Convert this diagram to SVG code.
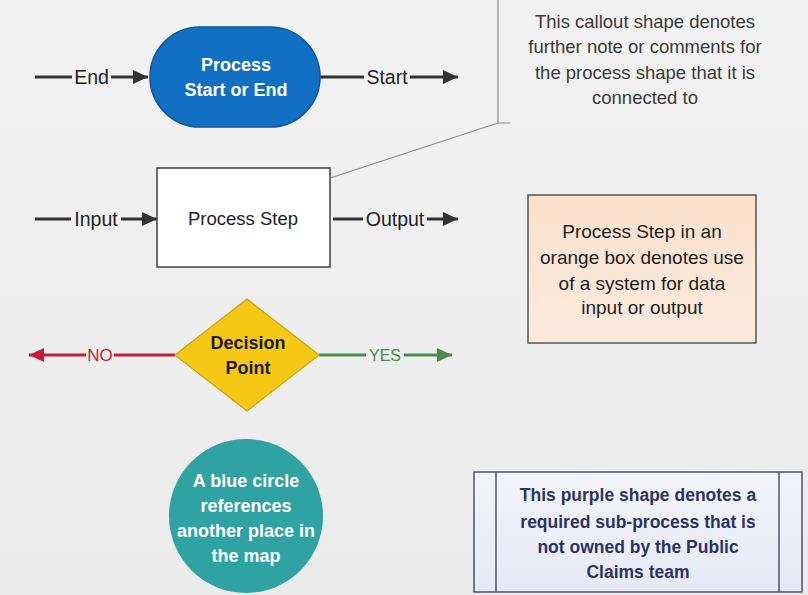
<svg xmlns="http://www.w3.org/2000/svg" width="808" height="595" viewBox="0 0 808 595">
  <defs>
    <style>
      .t { font-family: "Liberation Sans", Arial, sans-serif; text-anchor: middle; }
      .lbl { font-size: 19.5px; fill: #222; }
      .dk { stroke: #333; stroke-width: 3; fill: none; }
      .red { stroke: #C41E3A; stroke-width: 3; fill: none; }
      .grn { stroke: #4A8A4E; stroke-width: 3; fill: none; }
    </style>
    <linearGradient id="bg" x1="0" y1="0" x2="0" y2="1">
      <stop offset="0" stop-color="#F2F2F2"/>
      <stop offset="1" stop-color="#EBEBEB"/>
    </linearGradient>
    <linearGradient id="orange" x1="0" y1="0" x2="0" y2="1">
      <stop offset="0" stop-color="#FBE1CD"/>
      <stop offset="1" stop-color="#FCE9DC"/>
    </linearGradient>
    <linearGradient id="purple" x1="0" y1="0" x2="0" y2="1">
      <stop offset="0" stop-color="#F3F4FA"/>
      <stop offset="1" stop-color="#E6E8F6"/>
    </linearGradient>
    <marker id="ahDark" markerUnits="userSpaceOnUse" markerWidth="16" markerHeight="16" refX="15" refY="8" orient="auto">
      <path d="M0,1 L15,8 L0,15 Z" fill="#333"/>
    </marker>
    <marker id="ahRed" markerUnits="userSpaceOnUse" markerWidth="16" markerHeight="16" refX="15" refY="8" orient="auto">
      <path d="M0,1 L15,8 L0,15 Z" fill="#C41E3A"/>
    </marker>
    <marker id="ahGrn" markerUnits="userSpaceOnUse" markerWidth="16" markerHeight="16" refX="15" refY="8" orient="auto">
      <path d="M0,1 L15,8 L0,15 Z" fill="#4A8A4E"/>
    </marker>
  </defs>

  <rect x="0" y="0" width="808" height="595" fill="url(#bg)"/>

  <g id="connectors">
    <!-- End -->
    <path class="dk" d="M35,77 H72"/>
    <path class="dk" d="M111,77 H148" marker-end="url(#ahDark)"/>
    <text class="t lbl" x="91.5" y="84">End</text>
    <!-- Start -->
    <path class="dk" d="M320,77 H364"/>
    <path class="dk" d="M410,77 H458" marker-end="url(#ahDark)"/>
    <text class="t lbl" x="387" y="84">Start</text>
    <!-- Input -->
    <path class="dk" d="M35,219 H71"/>
    <path class="dk" d="M121,219 H157" marker-end="url(#ahDark)"/>
    <text class="t lbl" x="96" y="226">Input</text>
    <!-- Output -->
    <path class="dk" d="M333,219 H363"/>
    <path class="dk" d="M427,219 H458" marker-end="url(#ahDark)"/>
    <text class="t lbl" x="395" y="226">Output</text>
    <!-- NO -->
    <path class="red" d="M175,355 H114"/>
    <path class="red" d="M86,355 H29" marker-end="url(#ahRed)"/>
    <text class="t" x="100" y="361" font-size="17" fill="#C41E3A">NO</text>
    <!-- YES -->
    <path class="grn" d="M319,355 H366"/>
    <path class="grn" d="M404,355 H452" marker-end="url(#ahGrn)"/>
    <text class="t" x="385" y="361" font-size="16" fill="#4A8A4E">YES</text>
    <!-- callout leader -->
    <path d="M498,123 L330,178" stroke="#8A8A8A" stroke-width="1.2" fill="none"/>
  </g>

  <g id="terminator">
    <rect x="150" y="27" width="170" height="100" rx="50" ry="50" fill="#1170C4" stroke="#0D5799" stroke-width="1.5"/>
    <text class="t" x="236" y="71" font-size="18" font-weight="bold" fill="#FFFFFF">Process</text>
    <text class="t" x="236" y="96" font-size="18" font-weight="bold" fill="#FFFFFF">Start or End</text>
  </g>

  <g id="callout">
    <path d="M510,123 H498 V0" stroke="#8A8A8A" stroke-width="1.2" fill="none"/>
    <text class="t" x="645" y="28" font-size="18.5" fill="#3A3A3A">This callout shape denotes</text>
    <text class="t" x="645" y="53" font-size="18.5" fill="#3A3A3A">further note or comments for</text>
    <text class="t" x="645" y="79" font-size="18.5" fill="#3A3A3A">the process shape that it is</text>
    <text class="t" x="645" y="104" font-size="18.5" fill="#3A3A3A">connected to</text>
  </g>

  <g id="process-step">
    <rect x="157" y="168" width="173" height="99" fill="#FFFFFF" stroke="#404040" stroke-width="1.5"/>
    <text class="t" x="243" y="225" font-size="18.5" fill="#1E1E1E">Process Step</text>
  </g>

  <g id="system-step">
    <rect x="528" y="195" width="228" height="148" fill="url(#orange)" stroke="#555" stroke-width="1.5"/>
    <text class="t" x="642" y="238" font-size="19" fill="#1E1E1E">Process Step in an</text>
    <text class="t" x="642" y="264" font-size="19" fill="#1E1E1E">orange box denotes use</text>
    <text class="t" x="642" y="290" font-size="19" fill="#1E1E1E">of a system for data</text>
    <text class="t" x="642" y="314" font-size="19" fill="#1E1E1E">input or output</text>
  </g>

  <g id="decision">
    <polygon points="247,299 319,355 247,411 175,355" fill="#F6C816" stroke="#C9A20E" stroke-width="1.2"/>
    <text class="t" x="248" y="349" font-size="18" font-weight="bold" fill="#1A1A1A">Decision</text>
    <text class="t" x="248" y="374" font-size="18" font-weight="bold" fill="#1A1A1A">Point</text>
  </g>

  <g id="reference-circle">
    <circle cx="246" cy="516" r="77" fill="#2FA3A3"/>
    <text class="t" x="246" y="487" font-size="18" font-weight="bold" fill="#FFFFFF">A blue circle</text>
    <text class="t" x="246" y="512" font-size="18" font-weight="bold" fill="#FFFFFF">references</text>
    <text class="t" x="246" y="537" font-size="18" font-weight="bold" fill="#FFFFFF">another place in</text>
    <text class="t" x="246" y="562" font-size="18" font-weight="bold" fill="#FFFFFF">the map</text>
  </g>

  <g id="subprocess">
    <rect x="474" y="472" width="328" height="120" fill="url(#purple)" stroke="#3A3A55" stroke-width="1.3"/>
    <line x1="496" y1="472" x2="496" y2="592" stroke="#3A3A55" stroke-width="1.3"/>
    <line x1="779" y1="472" x2="779" y2="592" stroke="#3A3A55" stroke-width="1.3"/>
    <text class="t" x="638" y="501" font-size="17.5" font-weight="bold" fill="#2B3560">This purple shape denotes a</text>
    <text class="t" x="638" y="528" font-size="17.5" font-weight="bold" fill="#2B3560">required sub-process that is</text>
    <text class="t" x="638" y="553" font-size="17.5" font-weight="bold" fill="#2B3560">not owned by the Public</text>
    <text class="t" x="638" y="578" font-size="17.5" font-weight="bold" fill="#2B3560">Claims team</text>
  </g>
</svg>
